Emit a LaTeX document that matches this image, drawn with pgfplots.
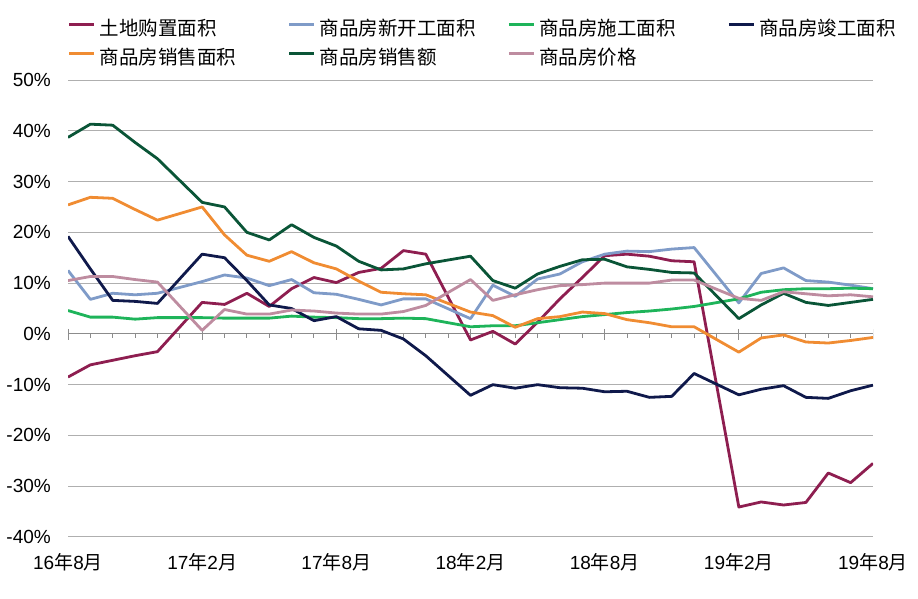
\documentclass[border=0pt]{standalone}
\usepackage{fontspec}
\setmainfont{Liberation Sans}
\newfontfamily\cjk{Noto Sans CJK SC}
\usepackage{pgfplots}
\pgfplotsset{compat=1.18}
\definecolor{cland}{RGB}{142,30,80}
\definecolor{cnew}{RGB}{127,155,200}
\definecolor{ccon}{RGB}{30,180,90}
\definecolor{ccomp}{RGB}{15,25,75}
\definecolor{carea}{RGB}{240,140,50}
\definecolor{camt}{RGB}{10,85,55}
\definecolor{cprice}{RGB}{190,140,160}
\definecolor{gridgray}{RGB}{175,175,175}
\definecolor{axgray}{RGB}{140,140,140}
\begin{document}
\begin{tikzpicture}
\useasboundingbox (0,0) rectangle (918pt,599pt);
\begin{axis}[
  at={(68pt,62pt)}, anchor=south west,
  scale only axis, width=805pt, height=457pt,
  xmin=0, xmax=36, ymin=-40, ymax=50,
  axis line style={draw=none},
  major tick length=0pt,
  ytick={-40,-30,-20,-10,0,10,20,30,40,50},
  yticklabels={-40\%,-30\%,-20\%,-10\%,0\%,10\%,20\%,30\%,40\%,50\%},
  xtick={0,6,12,18,24,30,36},
  xticklabels={16{\cjk 年}8{\cjk 月},17{\cjk 年}2{\cjk 月},17{\cjk 年}8{\cjk 月},18{\cjk 年}2{\cjk 月},18{\cjk 年}8{\cjk 月},19{\cjk 年}2{\cjk 月},19{\cjk 年}8{\cjk 月}},
  tick label style={font=\fontsize{19}{22}\selectfont},
  yticklabel style={inner sep=0pt, anchor=east, xshift=-17pt},
  xticklabel style={inner sep=0pt, anchor=base, yshift=-33pt},
  ymajorgrids, grid style={color=gridgray, line width=1pt},
  every axis plot/.append style={line width=2.8pt, no marks, line join=round},
  legend columns=4,
  legend style={draw=none, fill=none, inner sep=0pt, outer sep=0pt,
    at={(0,1.131)}, anchor=north west,
    font=\cjk\fontsize{19.5}{22}\selectfont,
    nodes={inner sep=0pt, text height=15pt, text depth=5pt},
    row sep=9pt,
    /tikz/every odd column/.append style={column sep=4pt},
    /tikz/every even column/.append style={column sep=0pt}},
  legend image code/.code={\draw[#1, line width=2.8pt] (0pt,6pt) -- (25pt,6pt);},
]
\draw[axgray, line width=1pt] (axis cs:0,0) -- (axis cs:36,0);
\pgfplotsinvokeforeach{0,...,36}{\draw[axgray, line width=1pt] (axis cs:#1,0) -- ([yshift=-4.5pt]axis cs:#1,0);}
\pgfplotsinvokeforeach{0,6,...,36}{\draw[axgray, line width=1pt] ([yshift=5pt]axis cs:#1,0) -- ([yshift=-6.5pt]axis cs:#1,0);}

\addplot[cland] coordinates {(0,-8.5) (1,-6.1) (2,-5.2) (3,-4.3) (4,-3.5) (6,6.2) (7,5.8) (8,8.0) (9,5.4) (10,8.9) (11,11.1) (12,10.1) (13,12.1) (14,12.9) (15,16.4) (16,15.7) (18,-1.2) (19,0.5) (20,-2.0) (21,2.3) (22,6.9) (23,11.1) (24,15.4) (25,15.7) (26,15.3) (27,14.4) (28,14.2) (30,-34.1) (31,-33.1) (32,-33.7) (33,-33.2) (34,-27.4) (35,-29.3) (36,-25.5)};
\addlegendentry{\makebox[188pt][l]{土地购置面积}}
\addplot[cnew] coordinates {(0,12.5) (1,6.8) (2,8.0) (3,7.7) (4,8.0) (6,10.3) (7,11.6) (8,11.0) (9,9.5) (10,10.7) (11,8.1) (12,7.8) (13,6.8) (14,5.7) (15,6.9) (16,6.9) (18,3.0) (19,9.6) (20,7.4) (21,10.8) (22,11.8) (23,14.2) (24,15.7) (25,16.3) (26,16.2) (27,16.7) (28,17.0) (30,6.1) (31,11.9) (32,13.0) (33,10.5) (34,10.2) (35,9.6) (36,8.9)};
\addlegendentry{\makebox[188pt][l]{商品房新开工面积}}
\addplot[ccon] coordinates {(0,4.6) (1,3.3) (2,3.3) (3,2.9) (4,3.2) (6,3.2) (7,3.1) (8,3.1) (9,3.1) (10,3.5) (11,3.3) (12,3.2) (13,3.0) (14,3.0) (15,3.1) (16,3.0) (18,1.4) (19,1.6) (20,1.6) (21,2.2) (22,2.8) (23,3.4) (24,3.8) (25,4.2) (26,4.5) (27,4.9) (28,5.4) (30,6.9) (31,8.2) (32,8.7) (33,8.9) (34,8.9) (35,9.0) (36,8.9)};
\addlegendentry{\makebox[188pt][l]{商品房施工面积}}
\addplot[ccomp] coordinates {(0,19.2) (1,12.8) (2,6.6) (3,6.4) (4,6.0) (6,15.7) (7,15.0) (8,10.5) (9,5.7) (10,5.0) (11,2.6) (12,3.4) (13,1.0) (14,0.7) (15,-1.0) (16,-4.3) (18,-12.1) (19,-10.0) (20,-10.7) (21,-10.0) (22,-10.6) (23,-10.7) (24,-11.4) (25,-11.3) (26,-12.5) (27,-12.3) (28,-7.8) (30,-12.0) (31,-10.9) (32,-10.2) (33,-12.5) (34,-12.7) (35,-11.2) (36,-10.1)};
\addlegendentry{\makebox[150pt][l]{商品房竣工面积}}
\addplot[carea] coordinates {(0,25.4) (1,26.9) (2,26.7) (3,24.5) (4,22.4) (6,25.0) (7,19.5) (8,15.5) (9,14.3) (10,16.2) (11,14.0) (12,12.8) (13,10.4) (14,8.2) (15,7.9) (16,7.7) (18,4.3) (19,3.6) (20,1.3) (21,3.0) (22,3.4) (23,4.3) (24,4.0) (25,2.8) (26,2.2) (27,1.4) (28,1.4) (30,-3.6) (31,-0.8) (32,-0.2) (33,-1.6) (34,-1.8) (35,-1.3) (36,-0.7)};
\addlegendentry{\makebox[188pt][l]{商品房销售面积}}
\addplot[camt] coordinates {(0,38.7) (1,41.3) (2,41.1) (3,37.7) (4,34.5) (6,25.9) (7,25.0) (8,20.0) (9,18.5) (10,21.5) (11,19.0) (12,17.3) (13,14.3) (14,12.6) (15,12.8) (16,13.8) (18,15.3) (19,10.5) (20,9.0) (21,11.8) (22,13.3) (23,14.6) (24,14.7) (25,13.2) (26,12.7) (27,12.1) (28,12.0) (30,3.0) (31,5.7) (32,8.0) (33,6.2) (34,5.6) (35,6.2) (36,6.8)};
\addlegendentry{\makebox[188pt][l]{商品房销售额}}
\addplot[cprice] coordinates {(0,10.5) (1,11.3) (2,11.3) (3,10.7) (4,10.2) (6,0.7) (7,4.8) (8,3.9) (9,3.9) (10,4.7) (11,4.5) (12,4.1) (13,3.9) (14,3.9) (15,4.4) (16,5.6) (18,10.7) (19,6.6) (20,7.7) (21,8.7) (22,9.5) (23,9.7) (24,10.0) (25,10.0) (26,10.0) (27,10.6) (28,10.6) (30,7.0) (31,6.6) (32,8.3) (33,7.9) (34,7.5) (35,7.7) (36,7.3)};
\addlegendentry{\makebox[188pt][l]{商品房价格}}
\end{axis}
\end{tikzpicture}
\end{document}
